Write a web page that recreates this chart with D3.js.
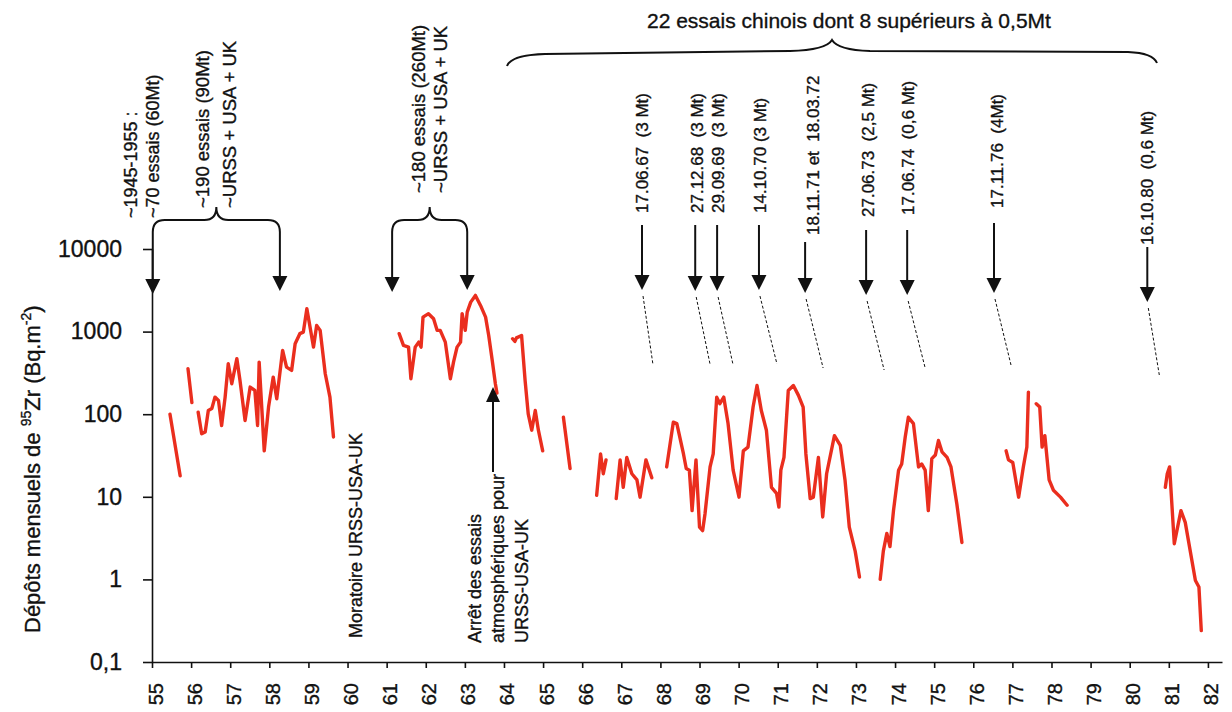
<!DOCTYPE html>
<html>
<head>
<meta charset="utf-8">
<script src="https://cdn.jsdelivr.net/npm/d3@7"></script>
<style>
  html, body { margin: 0; padding: 0; background: #fff; }
  svg { display: block; }
  text { font-family: "Liberation Sans", Arial, Helvetica, sans-serif; fill: #111; stroke: #111; stroke-width: 0.35px; white-space: pre; }
</style>
</head>
<body>
<svg id="chart" width="1232" height="712"></svg>
<script>
// Monthly 95Zr deposition (Bq/m2), decimal year (19xx) -> value; null breaks the trace.
const years5559 = [55.46,55.72,null,55.92,56.02,null,56.18,56.27,56.36,56.44,56.53,56.61,56.70,56.78,56.87,56.95,57.04,57.17,57.25,57.38,57.51,57.63,57.70,57.74,57.87,57.98,58.10,58.19,58.34,58.44,58.57,58.66,58.78,58.87,58.96,59.13,59.21,59.30,59.43,59.55,59.64];
const zr5559    = [100,18,null,356,138,null,106,58,61,111,117,161,147,73,161,408,234,470,256,84,213,194,73,427,36,122,281,154,592,372,339,713,944,986,1893,649,1189,1035,309,161,53];

const years6165 = [61.32,61.43,61.56,61.62,61.73,61.82,61.88,61.93,62.07,62.20,62.29,62.37,62.50,62.63,62.71,62.80,62.89,62.93,63.01,63.06,63.15,63.27,63.40,63.53,63.61,63.70,63.78,63.82,null,64.22,64.28,64.32,64.45,64.54,64.62,64.71,64.80,64.88,64.99,null,65.52,65.69];
const zr6165    = [944,680,649,269,649,746,649,1496,1648,1432,1035,1035,746,269,427,649,746,1648,1035,1722,2275,2743,2074,1496,899,448,234,180,null,820,760,840,899,256,101,64,111,64,36,null,92,22];

const years6675 = [66.37,66.47,66.54,66.61,null,66.87,66.97,67.05,67.14,67.27,67.40,67.48,67.63,67.78,null,68.16,68.33,68.42,68.59,68.66,68.74,68.81,68.91,69.00,69.08,69.14,69.27,69.35,69.44,69.52,69.62,69.73,69.86,70.01,70.12,70.24,70.37,70.47,70.58,70.71,70.84,70.97,71.03,71.08,71.16,71.27,71.40,71.53,71.65,71.72,71.83,71.91,72.04,72.15,72.25,72.45,72.60,72.72,72.83,72.98,73.09,null,73.62,73.70,73.79,73.87,73.96,74.09,74.17,74.26,74.34,74.47,74.60,74.68,74.77,74.85,74.94,75.03,75.11,75.20,75.33,75.43,75.58,75.71];
const zr6675    = [10.4,33,19,28,null,9.5,28,13,30,19,16,9.9,28,17,null,23,80,77,33,22,21,6.8,28,4.3,3.9,6.2,23,33,161,134,161,77,21,9.9,36,40,122,223,111,64,13,11,7.5,21,30,194,223,169,122,33,9.5,9.9,30,5.7,19,55,42,16,4.3,2.2,1.07,null,1.0,2.2,3.6,2.5,6.8,21,25,53,92,77,23,25,21,6.8,29,32,48,35,30,23,8.2,2.8];

const years7682 = [76.84,76.90,77.01,77.16,77.28,77.37,77.41,null,77.61,77.70,77.76,77.83,77.94,78.05,78.23,78.40,null,80.91,80.96,81.02,81.14,81.31,81.42,81.68,81.77,81.83];
const zr7682    = [36,28,26,9.9,23,40,185,null,134,122,40,55,16,12,9.9,7.9,null,13,19,23,2.7,6.8,4.9,0.97,0.81,0.24];

// Axis ticks
const yearTicks = d3.range(55, 83);
const valueTicks = [0.1, 1, 10, 100, 1000, 10000];

// Chinese atmospheric tests (arrow position in years, label)
const chinaYears  = [67.53, 68.89, 69.45, 70.52, 71.70, 73.26, 74.31, 76.53, 80.45];
const chinaLabels = ["17.06.67  (3 Mt)", "27.12.68  (3 Mt)", "29.09.69  (3 Mt)", "14.10.70 (3 Mt)",
                     "18.11.71 et  18.03.72", "27.06.73  (2,5 Mt)", "17.06.74  (0,6 Mt)",
                     "17.11.76  (4Mt)", "16.10.80  (0,6 Mt)"];

// Test series 1955-58 and 1961-62 (bracket arrow positions, years)
const seriesArrowYears = [[55.02, 58.27], [61.14, 63.06]];
const moratoireYear = 60.2;
const arretYear = 63.72;

const svg = d3.select("#chart");
const X = d3.scaleLinear().domain([55, 82.36]).range([152, 1222]);
const Y = d3.scaleLog().domain([0.1, 10000]).range([662, 249]);

const ink = "#111";

// ---- axes ----
const xAxis = d3.axisBottom(X).tickValues(yearTicks).tickSize(6).tickSizeOuter(0).tickFormat(d3.format("d"));
const gx = svg.append("g").attr("transform", `translate(0,${Y(0.1)})`).call(xAxis);
gx.select(".domain").attr("stroke", ink).attr("stroke-width", 1.6);
gx.selectAll(".tick line").attr("stroke", ink).attr("stroke-width", 1.6);
gx.selectAll(".tick text")
  .attr("transform", "rotate(-90)")
  .attr("text-anchor", "end")
  .attr("x", -21).attr("y", 3).attr("dy", "0.35em")
  .style("font-size", "20px").attr("fill", ink);

const yAxis = d3.axisLeft(Y).tickValues(valueTicks).tickSize(9).tickSizeOuter(0).tickPadding(21)
  .tickFormat(d => d === 0.1 ? "0,1" : d3.format("d")(d));
const gy = svg.append("g").attr("transform", `translate(${X(55)},0)`).call(yAxis);
gy.select(".domain").attr("stroke", ink).attr("stroke-width", 1.6);
gy.selectAll(".tick line").attr("stroke", ink).attr("stroke-width", 1.6);
gy.selectAll(".tick text").style("font-size", "23px").attr("fill", ink);
svg.selectAll("g").attr("font-family", null).attr("font-size", null);

// ---- y title with superscripts ----
const yt = svg.append("text").attr("transform", "translate(40,633) rotate(-90)").style("font-size", "22px");
yt.append("tspan").text("Dépôts mensuels de ");
yt.append("tspan").text("95").style("font-size", "14px").attr("dy", "-9");
yt.append("tspan").text("Zr (Bq.m").attr("dy", "9");
yt.append("tspan").text("-2").style("font-size", "14px").attr("dy", "-9");
yt.append("tspan").text(")").attr("dy", "9");

// ---- data trace ----
const line = d3.line()
  .defined(d => d.v != null)
  .x(d => X(d.t))
  .y(d => Y(d.v));
[[years5559, zr5559], [years6165, zr6165], [years6675, zr6675], [years7682, zr7682]].forEach(([ts, vs]) => {
  const pts = ts.map((t, i) => ({ t, v: vs[i] }));
  svg.append("path").datum(pts)
    .attr("d", line)
    .attr("fill", "none")
    .attr("stroke", "#ea2e1e")
    .attr("stroke-width", 3.4)
    .attr("stroke-linejoin", "round")
    .attr("stroke-linecap", "round");
});

// ---- helpers ----
function arrowDown(x, y0, tip) {
  svg.append("line").attr("x1", x).attr("x2", x).attr("y1", y0).attr("y2", tip - 8)
    .attr("stroke", ink).attr("stroke-width", 2);
  svg.append("path").attr("d", `M${x - 7.5},${tip - 15}L${x + 7.5},${tip - 15}L${x},${tip}Z`).attr("fill", ink);
}
function rotLabel(x, yBottom, txt, size) {
  svg.append("text").attr("transform", `translate(${x},${yBottom}) rotate(-90)`)
    .attr("dy", "0.35em").style("font-size", size + "px").text(txt);
}
function smallBrace(x0, x1, yEnd, yBar, yPeak) {
  const m = (x0 + x1) / 2;
  const d = `M${x0},${yEnd} Q${x0},${yBar} ${x0 + 12},${yBar} L${m - 12},${yBar} Q${m},${yBar} ${m},${yPeak}` +
            ` Q${m},${yBar} ${m + 12},${yBar} L${x1 - 12},${yBar} Q${x1},${yBar} ${x1},${yEnd}`;
  svg.append("path").attr("d", d).attr("fill", "none").attr("stroke", ink).attr("stroke-width", 2);
}

// ---- 1955-58 and 1961-62 series ----
const s1 = seriesArrowYears[0].map(X), s2 = seriesArrowYears[1].map(X);
smallBrace(s1[0], s1[1], 232, 220, 207);
smallBrace(s2[0], s2[1], 232, 220, 207);
arrowDown(s1[0], 232, 294);
arrowDown(s1[1], 232, 291);
arrowDown(s2[0], 232, 292);
arrowDown(s2[1], 232, 290);
rotLabel(131, 218, "~1945-1955 :", 18);
rotLabel(153, 218, "~70 essais (60Mt)", 18);
rotLabel(203, 208, "~190 essais (90Mt)", 18.5);
rotLabel(230, 208, "~URSS + USA + UK", 18.5);
rotLabel(419, 193, "~180 essais (260Mt)", 18.5);
rotLabel(441, 193, "~URSS + USA + UK", 18.5);

// ---- moratorium and test ban ----
rotLabel(X(moratoireYear), 638, "Moratoire URSS-USA-UK", 18);
const ax = X(arretYear);
svg.append("line").attr("x1", ax).attr("x2", ax).attr("y1", 472).attr("y2", 398)
  .attr("stroke", ink).attr("stroke-width", 2);
svg.append("path").attr("d", `M${ax - 7},${402}L${ax + 7},${402}L${ax},${387}Z`).attr("fill", ink);
rotLabel(475, 643, "Arrêt des essais", 18);
rotLabel(498, 643, "atmosphériques pour", 18);
rotLabel(522, 643, "URSS-USA-UK", 18);

// ---- Chinese tests ----
svg.append("path")
  .attr("d", "M507,66 Q511,55 545,54 L790,51 Q826,50 832,40 Q838,50 870,51 L1128,52 Q1153,53 1157,63")
  .attr("fill", "none").attr("stroke", ink).attr("stroke-width", 2);
svg.append("text").attr("x", 647).attr("y", 28).style("font-size", "21px")
  .text("22 essais chinois dont 8 supérieurs à 0,5Mt");

const labelDx   = [0, 2, 1, 1, 8, 2, 1, 3, 0];
const labelBot  = [213, 213, 213, 213, 235, 217, 215, 208, 245];
const arrowTop  = [225, 225, 225, 225, 242, 230, 230, 223, 247];
const arrowTip  = [290, 291, 291, 290, 293, 295, 295, 293, 302];
const dashEnd   = [[11, 365], [15, 365], [16, 365], [18, 364], [18, 368], [18, 370], [18, 368], [17, 365], [12, 375]];
chinaYears.forEach((yr, i) => {
  const x = X(yr);
  rotLabel(x + labelDx[i], labelBot[i], chinaLabels[i], 17);
  arrowDown(x, arrowTop[i], arrowTip[i]);
  svg.append("line")
    .attr("x1", x + 1).attr("y1", arrowTip[i] + 6)
    .attr("x2", x + dashEnd[i][0]).attr("y2", dashEnd[i][1])
    .attr("stroke", ink).attr("stroke-width", 1).attr("stroke-dasharray", "3,2");
});
</script>
</body>
</html>
